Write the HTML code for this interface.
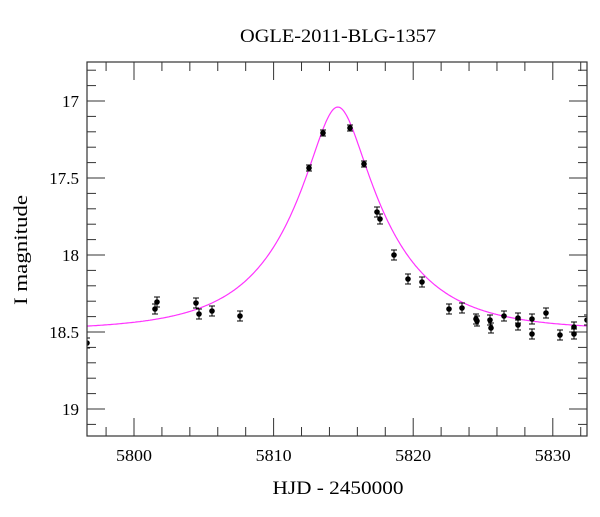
<!DOCTYPE html>
<html><head><style>body{margin:0;background:#fff}</style></head><body>
<svg id="s" width="600" height="512" xmlns="http://www.w3.org/2000/svg" font-family="Liberation Serif, serif">
<rect width="600" height="512" fill="#fff"/>
<text x="338" y="42" font-size="19" text-anchor="middle" textLength="196" lengthAdjust="spacingAndGlyphs">OGLE-2011-BLG-1357</text>
<text x="338" y="494" font-size="19" text-anchor="middle" textLength="131" lengthAdjust="spacingAndGlyphs">HJD - 2450000</text>
<text transform="translate(27,250) rotate(-90)" font-size="19" text-anchor="middle" textLength="110" lengthAdjust="spacingAndGlyphs">I magnitude</text>
<g id="ticks" stroke="#333" stroke-width="1"></g>
<g id="lbl" font-size="17"></g>
<defs><clipPath id="c"><rect x="87" y="62" width="500" height="374"/></clipPath></defs>
<path id="curve" fill="none" stroke="#ff33ff" stroke-width="1.2" clip-path="url(#c)"/>
<g id="pts" clip-path="url(#c)"></g>
<rect x="87" y="62" width="500" height="374" fill="none" stroke="#333" stroke-width="1.2"/>
</svg>
<script>
var NS="http://www.w3.org/2000/svg";
function X(t){return 134+(t-5800)*13.96}
function Y(m){return 101+(m-17)*154}
function el(p,n,a,txt){var e=document.createElementNS(NS,n);for(var k in a)e.setAttribute(k,a[k]);if(txt)e.textContent=txt;document.getElementById(p).appendChild(e);}
for(var t=5798;t<=5832;t+=2){var x=X(t),L=(t%10==0)?18:9;
el("ticks","line",{x1:x,y1:62,x2:x,y2:62+L});el("ticks","line",{x1:x,y1:436,x2:x,y2:436-L});
if(t%10==0)el("lbl","text",{x:x,y:461,"text-anchor":"middle",textLength:36,lengthAdjust:"spacingAndGlyphs"},""+t);}
for(var i=168;i<=191;i++){var m=i/10,y=Y(m),L=(i%5==0)?18:9;
el("ticks","line",{x1:87,y1:y,x2:87+L,y2:y});el("ticks","line",{x1:587,y1:y,x2:587-L,y2:y});
if(i%5==0)el("lbl","text",{x:79,y:y+6,"text-anchor":"end"},(i%10==0)?""+(i/10):m.toFixed(1));}
var d="";for(var px=87;px<=587;px++){var t=5800+(px-134)/13.96,u0=0.27,tE=6.9,dt=(t-5814.6)/tE,u=Math.sqrt(u0*u0+dt*dt),A=(u*u+2)/(u*Math.sqrt(u*u+4));var m=18.49-2.5*Math.log10(A);d+=(px==87?"M":"L")+px+","+Y(m).toFixed(1);}
document.getElementById("curve").setAttribute("d",d);
var P=[[87,343],[155,309],[157,302],[196,303],[199,314],[212,311],[240,316],[309,168],[323,133],[350,128],[364,164],[377,212],[380,219],[394,255],[408,279],[422,282],[449,309],[462,308],[476,319],[477,321],[490,320],[491,328],[504,316],[518,318],[518,325],[532,319],[532,334],[546,313],[560,335],[574,327],[574,334],[587,320]];
P.forEach(function(p){var e=p[1]<180?3:5;
el("pts","line",{x1:p[0],y1:p[1]-e,x2:p[0],y2:p[1]+e,stroke:"#000"});
el("pts","line",{x1:p[0]-3,y1:p[1]-e,x2:p[0]+3,y2:p[1]-e,stroke:"#000"});
el("pts","line",{x1:p[0]-3,y1:p[1]+e,x2:p[0]+3,y2:p[1]+e,stroke:"#000"});
el("pts","circle",{cx:p[0],cy:p[1],r:2.8,fill:"#000"});});
</script>
</body></html>
